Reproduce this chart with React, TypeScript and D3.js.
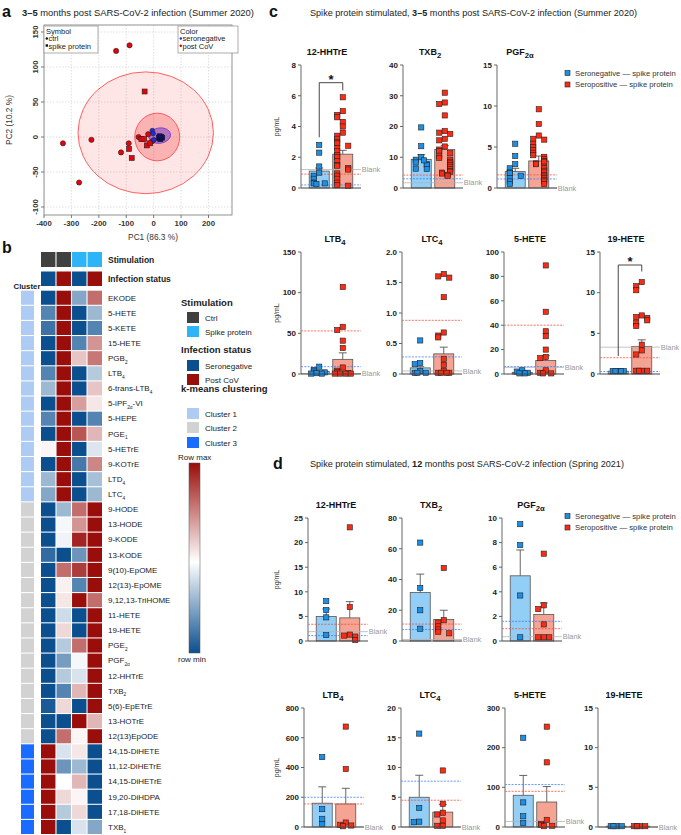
import * as d3 from 'd3'

const FONT = '"Liberation Sans", Arial, Helvetica, sans-serif'
const NEG = '#1a8fe8'
const POS = '#ff2a12'
const NEG_BAR = '#93cef6'
const POS_BAR = '#f5a393'

// ---------- panel a : PCA
const pcaXTicks = [-400, -300, -200, -100, 0, 100, 200]
const pcaYTicks = [-100, -50, 0, 50, 100, 150]
const pcaCtrlPost = [[-331, -9], [-272, -65], [-227, -4], [-137, 123], [-88, 131], [-119, -22], [-91, -9], [-55, 0], [-20, 4], [-5, -6]]
const pcaSpikePost = [[-33, 65], [-90, -17], [-80, -30], [-45, -3], [-35, -3], [-25, -12], [-13, -9]]
const pcaCtrlNeg = [[-5, 9], [-2, 5], [1, -4]]
const pcaSpikeNeg = [[20, -1], [27, 0], [24, -3], [31, -1], [22, 1]]
const pcaEllipseBig = [-29, 6, 247, 87]
const pcaEllipseMid = [13, 0, 82, 34]
const pcaEllipseNeg = [22, 2, 40, 11]

// ---------- panel b : heatmap
const heatLabels = ['EKODE', '5-HETE', '5-KETE', '15-HETE', 'PGB_{2}', 'LTB_{4}', '6-trans-LTB_{4}', '5-iPF_{2α}-VI', '5-HEPE', 'PGE_{1}', '5-HETrE', '9-KOTrE', 'LTD_{4}', 'LTC_{4}',
  '9-HODE', '13-HODE', '9-KODE', '13-KODE', '9(10)-EpOME', '12(13)-EpOME', '9,12,13-TriHOME', '11-HETE', '19-HETE', 'PGE_{2}', 'PGF_{2α}', '12-HHTrE', 'TXB_{2}', '5(6)-EpETrE', '13-HOTrE', '12(13)EpODE',
  '14,15-DiHETE', '11,12-DiHETrE', '14,15-DiHETrE', '19,20-DiHDPA', '17,18-DiHETE', 'TXB_{1}']
const heatCluster = [1, 1, 1, 1, 1, 1, 1, 1, 1, 1, 1, 1, 1, 1, 2, 2, 2, 2, 2, 2, 2, 2, 2, 2, 2, 2, 2, 2, 2, 2, 3, 3, 3, 3, 3, 3]
const heatValues = [
  [0, 1, 0.25, 0.8], [0.15, 1, 0, 0.3], [0.1, 1, 0, 0.15], [0, 1, 0.15, 0.72], [0, 1, 0.62, 0.78],
  [0.15, 1, 0, 0.35], [0.3, 1, 0, 0.62], [0, 1, 0.7, 0.55], [0.15, 1, 0, 0.15], [0, 1, 0.85, 0.65],
  [0.52, 1, 0, 0.43], [0, 1, 0.12, 0.75], [0.3, 1, 0, 0.32], [0.25, 1, 0, 0.3],
  [0, 0.3, 0.8, 1], [0, 0.48, 0.72, 1], [0, 0.47, 0.95, 1], [0.08, 0, 0.2, 1], [0, 0.8, 0.9, 1],
  [0, 0.53, 0.15, 1], [0, 0.55, 1, 0.8], [0, 0.4, 0, 1], [0, 0.58, 0, 1], [0, 0.35, 0.8, 1],
  [0, 0.22, 0.48, 1], [0, 0.35, 0.42, 1], [0, 0.15, 0.65, 1], [0.03, 0.58, 0, 1], [0, 0, 1, 0.65], [0, 0.8, 0.52, 1],
  [1, 0.42, 0.55, 0], [1, 0.2, 0.3, 0], [1, 0.5, 0.65, 0], [1, 0.58, 0.52, 0], [1, 0.35, 0.58, 0], [1, 0, 0.42, 0.25],
]
const heatStim = ['Ctrl', 'Ctrl', 'Spike protein', 'Spike protein']
const heatInf = ['Seronegative', 'Post CoV', 'Seronegative', 'Post CoV']

// ---------- panel c : 3-5 months
const cHhtreNeg = [2.8, 2.3, 1.4, 1.0, 0.8, 0.6, 0.35, 0.3, 0.3, 0.25]
const cHhtrePos = [5.9, 5.0, 4.75, 4.6, 4.3, 4.0, 3.6, 3.4, 3.2, 3.0, 2.9, 2.75, 2.6, 2.4, 2.15, 2.0, 1.75, 1.5, 1.45, 1.3, 1.2, 0.95, 0.8, 0.6, 0.35, 0.2, 0.15]
const cTxb2Neg = [19.7, 13.6, 10.0, 9.2, 8.3, 7.8, 7.5, 6.3, 6.2, 9.0]
const cTxb2Pos = [31.0, 27.8, 27.3, 23.6, 18.5, 18.0, 17.6, 16.0, 15.5, 13.5, 12.5, 12.0, 11.3, 10.5, 9.8, 9.2, 8.5, 8.0, 7.4, 6.9, 6.2, 5.5, 5.3, 5.0, 4.7, 4.3, 4.0]
const cPgfNeg = [5.4, 3.9, 2.9, 2.4, 1.9, 1.8, 1.5, 1.2, 0.8, 0.5]
const cPgfPos = [9.6, 7.8, 6.4, 6.0, 5.9, 5.4, 5.0, 4.6, 4.3, 4.0, 3.8, 3.5, 3.3, 3.2, 3.0, 2.9, 2.6, 2.4, 2.1, 1.9, 1.6, 1.4, 1.2, 1.0, 0.8, 0.5]
const cLtb4Neg = [9, 5, 3, 2, 1, 0.5, 0.5]
const cLtb4Pos = [107, 58, 54, 41, 32, 8, 4, 2, 1, 0.5, 0.5, 0.5, 0.5]
const cLtc4Neg = [0.55, 0.18, 0.16, 0.05, 0.02, 0.02, 0.02]
const cLtc4Pos = [1.64, 1.6, 1.58, 1.26, 0.68, 0.63, 0.6, 0.25, 0.15, 0.05, 0.02, 0.02, 0.02, 0.02]
const cHeteNeg = [3, 2, 1, 0.5, 0.5]
const cHetePos = [89, 51, 35, 31, 20, 14, 13, 3, 1, 0.5, 0.5]
const c19Neg = [0.35, 0.35, 0.35, 0.35, 0.35]
const c19Pos = [11.3, 10.8, 10.3, 7.2, 7.0, 6.9, 6.6, 6.3, 5.9, 3.6, 2.9, 2.4, 0.4, 0.4, 0.4, 0.4]
// [neg mean, neg sem top, pos mean, pos sem top]
const cBars = [[1.1, 1.3, 2.2, 2.45], [9.3, 10.8, 12.5, 13.8], [2.0, 2.4, 3.3, 3.9], [3, 4, 18, 26], [0.1, 0.12, 0.33, 0.44], [1.2, 1.6, 11, 15], [0.35, 0.35, 3.4, 4.2]]
// [red, blue, blank]
const cLines = [[0.9, 0.2, 1.2], [4.2, 3.0, 1.7], [1.6, 1.1, 0], [53, 9, 0.5], [0.88, 0.28, 0.05], [40, 6, 5.5], [2.0, 0.3, 3.3]]

// ---------- panel d : 12 months
const dHhtreNeg = [8.1, 6.3, 4.8, 1.2]
const dHhtrePos = [23.1, 6.9, 1.3, 1.1, 0.9, 0.2]
const dTxb2Neg = [64, 34.5, 20, 8]
const dTxb2Pos = [47.5, 13.5, 12, 9.5, 7.5, 6, 5]
const dPgfNeg = [9.5, 7.8, 3.7, 0.3]
const dPgfPos = [7.1, 2.9, 2.6, 1.35, 0.3, 0.3, 0.3]
const dLtb4Neg = [470, 120, 55, 20]
const dLtb4Pos = [675, 390, 30, 15, 10, 5]
const dLtc4Neg = [15.7, 3.2, 0.9, 0.8]
const dLtc4Pos = [9.5, 3.9, 2.4, 2.1, 1.1, 0.2, 0.2]
const dHeteNeg = [225, 62, 27, 10]
const dHetePos = [253, 163, 18, 8, 5, 3, 2]
const d19Neg = [0.1, 0.1, 0.1, 0.1]
const d19Pos = [0.1, 0.1, 0.1, 0.1]
const dBars = [[5.0, 6.5, 4.7, 8.0], [31.5, 43.5, 14, 20], [5.3, 7.4, 2.15, 3.1], [160, 270, 155, 260], [5.0, 8.7, 2.5, 3.8], [80, 130, 63, 102], [0.1, 0.1, 0.1, 0.1]]
const dLines = [[3.4, 1.1, 1.9], [11, 7.5, 1], [1.0, 1.6, 0.35], [155, 200, 0], [4.5, 7.7, 0], [90, 107, 14], [null, null, 0]]

const chartMax = { c: [8, 40, 15, 150, 2, 100, 15], d: [25, 80, 10, 800, 20, 300, 15] }
const chartStep = { c: [2, 10, 5, 50, 0.5, 20, 5], d: [5, 20, 2, 200, 5, 100, 5] }
const chartTitles = ['12-HHTrE', 'TXB_{2}', 'PGF_{2α}', 'LTB_{4}', 'LTC_{4}', '5-HETE', '19-HETE']

function Label({ text, size, subScale = 0.7 }: any) {
  const parts = text.split(/_\{([^}]*)\}/)
  const out: any[] = []
  let down = false
  parts.forEach((p: string, i: number) => {
    if (!p) return
    if (i % 2) {
      out.push(<tspan key={i} dy={size * 0.35} fontSize={size * subScale}>{p}</tspan>)
      down = true
    } else {
      out.push(<tspan key={i} dy={down ? -size * 0.35 : 0}>{p}</tspan>)
      down = false
    }
  })
  return <>{out}</>
}

function swarm(vals: number[], y: any) {
  const offs = [0, -5.5, 5.5, -2.8, 2.8, -8, 8, -4, 4]
  const placed: number[] = []
  return vals.map(v => {
    const py = y(v)
    const n = placed.filter(p => Math.abs(p - py) < 4.5).length
    placed.push(py)
    return [offs[n % offs.length], py]
  })
}

function BarChart({ ax, top, bottom, max, step, title, tdx, neg, pos, bars, lines, sig, ylab }: any) {
  const y = d3.scaleLinear().domain([0, max]).range([bottom, top])
  const xb = d3.scaleBand().domain(['neg', 'pos']).range([ax, ax + 60]).paddingInner(0.15).paddingOuter(0.35)
  const bw = xb.bandwidth()
  const ticks = d3.range(0, max + step / 2, step)
  const fmt = (t: number) => (t === 0 ? '0' : step < 1 ? t.toFixed(1) : String(t))
  const groups = [
    { key: 'neg', vals: neg, mean: bars[0], sem: bars[1], fill: NEG_BAR, pt: NEG },
    { key: 'pos', vals: pos, mean: bars[2], sem: bars[3], fill: POS_BAR, pt: POS },
  ]
  const end = ax + 60
  return (
    <g>
      <text x={ax + tdx} y={top - 10} textAnchor="middle" fontSize={9} fontWeight="bold" fill="#111">
        <Label text={title} size={9} subScale={0.85} />
      </text>
      {ylab && (
        <text transform={`translate(279,${(top + bottom) / 2}) rotate(-90)`} textAnchor="middle" fontSize={7} fill="#333">pg/mL</text>
      )}
      {groups.map(g => (
        <g key={g.key}>
          <line x1={xb(g.key)! + bw / 2} x2={xb(g.key)! + bw / 2} y1={y(g.mean)} y2={y(g.sem)} stroke="#555" strokeWidth={0.9} />
          <line x1={xb(g.key)! + bw / 2 - 4} x2={xb(g.key)! + bw / 2 + 4} y1={y(g.sem)} y2={y(g.sem)} stroke="#555" strokeWidth={0.9} />
          <rect x={xb(g.key)} y={y(g.mean)} width={bw} height={bottom - y(g.mean)} fill={g.fill} stroke="#555" strokeWidth={0.8} />
        </g>
      ))}
      <line x1={ax} x2={end} y1={y(lines[2])} y2={y(lines[2])} stroke="#b5b5b5" strokeWidth={0.8} />
      <text x={end + 0.8} y={y(lines[2]) + 2.7} fontSize={7.4} fill="#999">Blank</text>
      {lines[0] != null && <line x1={ax} x2={end} y1={y(lines[0])} y2={y(lines[0])} stroke="#ff4a3a" strokeWidth={0.8} strokeDasharray="2,1.3" />}
      {lines[1] != null && <line x1={ax} x2={end} y1={y(lines[1])} y2={y(lines[1])} stroke="#3d7dff" strokeWidth={0.8} strokeDasharray="2,1.3" />}
      {groups.map(g => swarm(g.vals, y).map(([dx, py], i) => (
        <rect key={g.key + i} x={xb(g.key)! + bw / 2 + dx - 2.6} y={py - 2.6} width={5.2} height={5.2} fill={g.pt} stroke="#222" strokeWidth={0.6} />
      )))}
      <line x1={ax} x2={ax} y1={top} y2={bottom} stroke="#8a8a8a" strokeWidth={1.3} />
      <line x1={ax} x2={end} y1={bottom} y2={bottom} stroke="#444" strokeWidth={1} />
      {ticks.map(t => (
        <g key={t}>
          <line x1={ax - 3} x2={ax} y1={y(t)} y2={y(t)} stroke="#666" strokeWidth={1} />
          <text x={ax - 5} y={y(t) + 2.8} textAnchor="end" fontSize={8} fontWeight="bold" fill="#222">{fmt(t)}</text>
        </g>
      ))}
      {sig && (
        <g>
          <path d={`M${xb('neg')! + bw / 2},${y(sig[1])}V${y(sig[0])}H${xb('pos')! + bw / 2}V${y(sig[2])}`} fill="none" stroke="#333" strokeWidth={0.9} />
          <text x={(xb('neg')! + xb('pos')!) / 2 + bw / 2} y={y(sig[0]) + 1} textAnchor="middle" fontSize={13} fontWeight="bold" fill="#111">*</text>
        </g>
      )}
    </g>
  )
}

function Legend({ y0 }: any) {
  return (
    <g fontSize={7.7} fill="#333">
      <rect x={565} y={y0 - 2.5} width={5} height={5} fill={NEG} stroke="#222" strokeWidth={0.6} />
      <text x={575} y={y0 + 2.6}>Seronegative — spike protein</text>
      <rect x={565} y={y0 + 9} width={5} height={5} fill={POS} stroke="#222" strokeWidth={0.6} />
      <text x={575} y={y0 + 14.1}>Seropositive — spike protein</text>
    </g>
  )
}

function PcaPanel() {
  const x = d3.scaleLinear().domain([-400, 200]).range([44, 208.5])
  const y = d3.scaleLinear().domain([-100, 150]).range([207, 32])
  const ell = (e: number[]) => ({ cx: x(e[0]), cy: y(e[1]), rx: x(e[0] + e[2]) - x(e[0]), ry: y(e[1]) - y(e[1] + e[3]) })
  return (
    <g>
      <defs>
        <clipPath id="pcaclip"><rect x={44} y={25} width={188} height={190} /></clipPath>
      </defs>
      <g clipPath="url(#pcaclip)">
        {pcaXTicks.map(t => <line key={t} x1={x(t)} x2={x(t)} y1={25} y2={215} stroke="#ccc" strokeWidth={0.6} strokeDasharray="1.5,1.5" />)}
        {pcaYTicks.map(t => <line key={t} x1={44} x2={232} y1={y(t)} y2={y(t)} stroke="#ccc" strokeWidth={0.6} strokeDasharray="1.5,1.5" />)}
        <ellipse {...ell(pcaEllipseBig)} fill="rgba(255,60,60,0.13)" stroke="#ff3b3b" strokeWidth={0.8} />
        <ellipse {...ell(pcaEllipseMid)} fill="rgba(240,60,60,0.3)" stroke="#ff3b3b" strokeWidth={0.8} />
        <ellipse {...ell(pcaEllipseNeg)} fill="rgba(130,70,200,0.6)" stroke="#6a3dd0" strokeWidth={0.8} transform={`rotate(-8,${x(pcaEllipseNeg[0])},${y(pcaEllipseNeg[1])})`} />
        {pcaCtrlPost.map((d, i) => <circle key={'cp' + i} cx={x(d[0])} cy={y(d[1])} r={2.6} fill="#e8000b" stroke="#222" strokeWidth={0.6} />)}
        {pcaSpikePost.map((d, i) => <rect key={'sp' + i} x={x(d[0]) - 2.5} y={y(d[1]) - 2.5} width={5} height={5} fill="#e8000b" stroke="#222" strokeWidth={0.6} />)}
        {pcaCtrlNeg.map((d, i) => <circle key={'cn' + i} cx={x(d[0])} cy={y(d[1])} r={2.4} fill="#1c2de0" stroke="#222" strokeWidth={0.6} />)}
        {pcaSpikeNeg.map((d, i) => <rect key={'sn' + i} x={x(d[0]) - 2.5} y={y(d[1]) - 2.5} width={5} height={5} fill="#10106e" stroke="#111" strokeWidth={0.6} />)}
      </g>
      <rect x={44} y={25} width={188} height={190} fill="none" stroke="#777" strokeWidth={0.8} />
      {pcaXTicks.map(t => (
        <g key={t}>
          <line x1={x(t)} x2={x(t)} y1={215} y2={218} stroke="#777" />
          <text x={x(t)} y={225.5} textAnchor="middle" fontSize={7.8} fontWeight="bold" fill="#333">{t}</text>
        </g>
      ))}
      {pcaYTicks.map(t => (
        <g key={t}>
          <line x1={41} x2={44} y1={y(t)} y2={y(t)} stroke="#777" />
          <text transform={`translate(38,${y(t)}) rotate(-90)`} textAnchor="middle" fontSize={7.8} fontWeight="bold" fill="#333">{t}</text>
        </g>
      ))}
      <text x={153} y={240} textAnchor="middle" fontSize={8.3} fill="#333">PC1 (86.3 %)</text>
      <text transform="translate(12,120) rotate(-90)" textAnchor="middle" fontSize={8.3} fill="#333">PC2 (10.2 %)</text>
      <g fontSize={7.5} fill="#222">
        <rect x={44} y={26} width={54} height={27} fill="#fff" stroke="#999" strokeWidth={0.8} />
        <text x={46} y={33.5}>Symbol</text>
        <circle cx={46.8} cy={38.5} r={1.2} fill="#111" />
        <text x={48.5} y={41}>ctrl</text>
        <rect x={45.6} y={44.3} width={2.4} height={2.4} fill="#111" />
        <text x={48.5} y={48.5}>spike protein</text>
        <rect x={178} y={26} width={60} height={27} fill="#fff" stroke="#999" strokeWidth={0.8} />
        <text x={180} y={33.5}>Color</text>
        <circle cx={180.8} cy={38.5} r={1.2} fill="#1c2de0" />
        <text x={182.5} y={41}>seronegative</text>
        <circle cx={180.8} cy={45.8} r={1.2} fill="#c00" />
        <text x={182.5} y={48.5}>post CoV</text>
      </g>
    </g>
  )
}

function HeatPanel() {
  const color = d3.scaleLinear<string>().domain([0, 0.5, 1]).range(['#0b4f8f', '#ffffff', '#990d0a'])
  const x = d3.scaleBand<number>().domain(d3.range(4)).range([41, 102]).paddingInner(0.07)
  const y = d3.scaleBand<number>().domain(d3.range(heatLabels.length)).range([290.7, 834]).paddingInner(0.07)
  const stimColor: any = { 'Ctrl': '#404040', 'Spike protein': '#2db5f8' }
  const infColor: any = { 'Seronegative': '#0b4f8f', 'Post CoV': '#990d0a' }
  const clusterColor = ['', '#aecbf3', '#d2d2d2', '#1a6bff']
  const sw = (yy: number, fill: string, label: string) => (
    <g>
      <rect x={187} y={yy} width={12} height={11} fill={fill} />
      <text x={205} y={yy + 8.5} fontSize={8} fill="#222">{label}</text>
    </g>
  )
  return (
    <g>
      {heatStim.map((s, i) => <rect key={'s' + i} x={x(i)} y={252} width={x.bandwidth()} height={15} fill={stimColor[s]} />)}
      {heatInf.map((s, i) => <rect key={'i' + i} x={x(i)} y={271.5} width={x.bandwidth()} height={14.5} fill={infColor[s]} />)}
      <text x={108} y={263} fontSize={8.5} fontWeight="bold" fill="#222">Stimulation</text>
      <text x={108} y={281.5} fontSize={8.5} fontWeight="bold" fill="#222">Infection status</text>
      <text x={27} y={288.5} textAnchor="middle" fontSize={7.8} fontWeight="bold" fill="#222">Cluster</text>
      {heatLabels.map((lab, r) => (
        <g key={lab + r}>
          <rect x={21} y={y(r)} width={13} height={y.bandwidth()} fill={clusterColor[heatCluster[r]]} />
          {heatValues[r].map((v, c) => <rect key={c} x={x(c)} y={y(r)} width={x.bandwidth()} height={y.bandwidth()} fill={color(v)} />)}
          <text x={108} y={y(r)! + y.bandwidth() / 2 + 2.8} fontSize={8} fill="#222"><Label text={lab} size={8} subScale={0.6} /></text>
        </g>
      ))}
      <g fontSize={9.5} fontWeight="bold" fill="#222">
        <text x={181} y={306}>Stimulation</text>
        <text x={181} y={353}>Infection status</text>
        <text x={181} y={392}>k-means clustering</text>
      </g>
      {sw(312, '#404040', 'Ctrl')}
      {sw(326, '#2db5f8', 'Spike protein')}
      {sw(360, '#0b4f8f', 'Seronegative')}
      {sw(374, '#990d0a', 'Post CoV')}
      {sw(408, '#aecbf3', 'Cluster 1')}
      {sw(422, '#d2d2d2', 'Cluster 2')}
      {sw(437, '#1a6bff', 'Cluster 3')}
      <defs>
        <linearGradient id="rowgrad" x1="0" x2="0" y1="0" y2="1">
          <stop offset="0" stopColor="#990d0a" />
          <stop offset="0.52" stopColor="#ffffff" />
          <stop offset="1" stopColor="#0b4f8f" />
        </linearGradient>
      </defs>
      <text x={178} y={460} fontSize={8} fill="#222">Row max</text>
      <rect x={189} y={463} width={11} height={190} fill="url(#rowgrad)" stroke="#555" strokeWidth={0.5} />
      <text x={178} y={662} fontSize={8} fill="#222">row min</text>
    </g>
  )
}

const cData = [[cHhtreNeg, cHhtrePos], [cTxb2Neg, cTxb2Pos], [cPgfNeg, cPgfPos], [cLtb4Neg, cLtb4Pos], [cLtc4Neg, cLtc4Pos], [cHeteNeg, cHetePos], [c19Neg, c19Pos]]
const dData = [[dHhtreNeg, dHhtrePos], [dTxb2Neg, dTxb2Pos], [dPgfNeg, dPgfPos], [dLtb4Neg, dLtb4Pos], [dLtc4Neg, dLtc4Pos], [dHeteNeg, dHetePos], [d19Neg, d19Pos]]
const cLayout = [
  { ax: 301, top: 65, bottom: 188, tdx: 26 }, { ax: 403, top: 65, bottom: 188, tdx: 27 }, { ax: 497, top: 65, bottom: 188, tdx: 23 },
  { ax: 301, top: 252, bottom: 374, tdx: 34 }, { ax: 402, top: 252, bottom: 374, tdx: 30 }, { ax: 504, top: 252, bottom: 374, tdx: 26 }, { ax: 600, top: 252, bottom: 374, tdx: 26 },
]
const dLayout = [
  { ax: 308, top: 518, bottom: 641, tdx: 28 }, { ax: 402, top: 518, bottom: 641, tdx: 29 }, { ax: 502, top: 518, bottom: 641, tdx: 29 },
  { ax: 304, top: 708, bottom: 827, tdx: 29 }, { ax: 401, top: 708, bottom: 827, tdx: 29 }, { ax: 505, top: 708, bottom: 827, tdx: 25 }, { ax: 598, top: 708, bottom: 827, tdx: 26 },
]
const cSig: any = { 0: [6.85, 3.3, 6.35], 6: [13.4, 2.2, 12.6] }

export default function App() {
  return (
    <svg width={681} height={835} style={{ position: 'absolute', left: 0, top: 0, background: '#fff' }} fontFamily={FONT}>
      <rect width={681} height={835} fill="#fff" />
      <g fontSize={16} fontWeight="bold" fill="#111">
        <text x={2} y={17}>a</text>
        <text x={2} y={253}>b</text>
        <text x={269} y={17}>c</text>
        <text x={273} y={469}>d</text>
      </g>
      <text x={22} y={16} fontSize={9.4} fill="#222"><tspan fontWeight="bold">3–5</tspan> months post SARS-CoV-2 infection (Summer 2020)</text>
      <text x={310} y={16} fontSize={9.1} fill="#222">Spike protein stimulated, <tspan fontWeight="bold">3–5</tspan> months post SARS-CoV-2 infection (Summer 2020)</text>
      <text x={310} y={467} fontSize={9.1} fill="#222">Spike protein stimulated, <tspan fontWeight="bold">12</tspan> months post SARS-CoV-2 infection (Spring 2021)</text>
      <PcaPanel />
      <HeatPanel />
      {cLayout.map((l, i) => (
        <BarChart key={'c' + i} {...l} max={chartMax.c[i]} step={chartStep.c[i]} title={chartTitles[i]} neg={cData[i][0]} pos={cData[i][1]}
          bars={cBars[i]} lines={cLines[i]} sig={cSig[i]} ylab={i === 0 || i === 3} />
      ))}
      {dLayout.map((l, i) => (
        <BarChart key={'d' + i} {...l} max={chartMax.d[i]} step={chartStep.d[i]} title={chartTitles[i]} neg={dData[i][0]} pos={dData[i][1]}
          bars={dBars[i]} lines={dLines[i]} ylab={i === 0 || i === 3} />
      ))}
      <Legend y0={73} />
      <Legend y0={516} />
    </svg>
  )
}
